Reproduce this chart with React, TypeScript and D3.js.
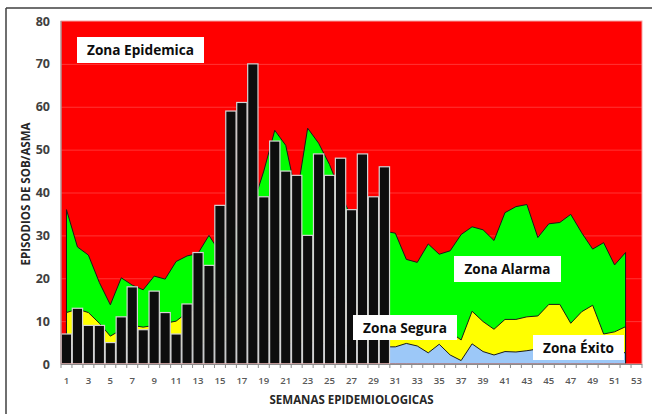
import React from "react";
import * as d3 from "d3";

const weeks = [1,2,3,4,5,6,7,8,9,10,11,12,13,14,15,16,17,18,19,20,21,22,23,24,25,26,27,28,29,30,31,32,33,34,35,36,37,38,39,40,41,42,43,44,45,46,47,48,49,50,51,52,53];
const tickWeeks = [1,3,5,7,9,11,13,15,17,19,21,23,25,27,29,31,33,35,37,39,41,43,45,47,49,51,53];
const yTicks = [0,10,20,30,40,50,60,70,80];

// observed episodes, weeks 1-30
const casos = [7,13,9,9,5,11,18,8,17,12,7,14,26,23,37,59,61,70,39,52,45,44,30,49,44,48,36,49,39,46];

// upper limits of each zone, weeks 1-52
const alarma = [36,27.3,25.4,19,13.8,20.1,18.4,17.3,20.5,19.8,23.9,25.2,25.8,30,26,30,34,37,45,54.5,51,39,55,51.5,46.5,40,34,36,33,31,30.5,24.4,23.7,28,25.6,26.4,30.2,32,31.3,28.8,35.3,36.7,37.2,29.5,32.7,33,34.9,30.6,26.8,28.3,23.1,26];
const segura = [12,12.8,12,9.5,6.5,8,9,8.6,9,9.5,10,12,13,14,15,16,17,18,17,18,17,16,18,17,16,15,14,14,12,10,8,9,8.5,8,9,7.5,5.6,12.3,9.9,8.1,10.4,10.4,11,11.2,13.9,13.9,9.5,12.2,13.7,7,7.5,8.7];
const exito = [4,4.5,4,3.5,3,3.5,4,4,4.5,4,3.5,4,4.5,5,5,5.5,5,5,5.5,5,5,4.5,5,5,4.5,4.5,4,4.5,4,4,4,4.8,4.2,2.6,4.6,2.1,0.8,4.7,2.9,2.1,2.9,2.8,3.1,3.5,4.5,4.5,3.5,3.5,3.5,3,3,2.6];

const W = 652, H = 414;
const L = 61, R = 642, T = 21, B = 364;

export default function App() {
  const x = d3.scaleBand<number>().domain(weeks).range([L, R]).paddingInner(0.06).paddingOuter(0.03);
  const y = d3.scaleLinear().domain([0, 80]).range([B, T]);
  const step = x.step();
  const cx = (w: number) => L + (weeks.indexOf(w) + 0.5) * step;

  const mk = (vals: number[]) =>
    d3.area<number>()
      .x((_, i) => cx(weeks[i]))
      .y0(y(0))
      .y1((d) => y(d))(vals) as string;

  const font = "'Open Sans', 'DejaVu Sans', sans-serif";

  const labels = [
    { t: "Zona Epidemica", bx: 77, by: 37, bw: 127, bh: 26, tl: 107 },
    { t: "Zona Alarma", bx: 454, by: 256, bw: 107, bh: 26, tl: 86 },
    { t: "Zona Segura", bx: 353, by: 315, bw: 104, bh: 25, tl: 84 },
    { t: "Zona Éxito", bx: 533, by: 335, bw: 91, bh: 25, tl: 71 },
  ];

  return (
    <div style={{ position: "fixed", left: 0, top: 0 }}>
      <svg width={W} height={H} style={{ display: "block", background: "#fff" }}>
        <line x1={6} y1={8} x2={W} y2={8} stroke="#3f3f3f" strokeWidth={1.5} />
        <line x1={6} y1={8} x2={6} y2={H} stroke="#3f3f3f" strokeWidth={1.5} />

        <rect x={L} y={T} width={R - L} height={B - T} fill="#ff0000" />
        {yTicks.slice(1, -1).map((t) => (
          <line key={t} x1={L} x2={R} y1={y(t) + 0.5} y2={y(t) + 0.5} stroke="#ff3535" strokeWidth={1} />
        ))}

        <path d={mk(alarma)} fill="#00ff00" stroke="#1a1a1a" strokeWidth={1} strokeLinejoin="round" />
        <path d={mk(segura)} fill="#ffff00" stroke="#1a1a1a" strokeWidth={1} strokeLinejoin="round" />
        <path d={mk(exito)} fill="#9cc8f8" stroke="#1a1a1a" strokeWidth={1} strokeLinejoin="round" />

        {casos.map((v, i) => (
          <rect
            key={i}
            x={x(weeks[i])!}
            y={y(v)}
            width={x.bandwidth()}
            height={y(0) - y(v)}
            fill="#0d0d0d"
            stroke="#d4d4d4"
            strokeWidth={1.2}
          />
        ))}

        <rect x={L} y={T} width={R - L} height={B - T} fill="none" stroke="#f6a5a5" strokeWidth={1} />
        <line x1={L} x2={L} y1={T} y2={B} stroke="#8c8c8c" strokeWidth={1} />
        <line x1={L} x2={R} y1={B + 0.5} y2={B + 0.5} stroke="#8c8c8c" strokeWidth={1} />
        {weeks.map((w, i) => (
          <line key={w} x1={L + i * step} x2={L + i * step} y1={B} y2={B + 4} stroke="#8c8c8c" strokeWidth={1} />
        ))}
        <line x1={R} x2={R} y1={B} y2={B + 4} stroke="#8c8c8c" strokeWidth={1} />

        {yTicks.map((t) => (
          <text key={t} x={50} y={y(t) + 4.5} textAnchor="end" fontFamily={font} fontWeight={700} fontSize={12.5} fill="#404040">
            {t}
          </text>
        ))}
        {tickWeeks.map((w) => (
          <text key={w} x={cx(w)} y={383.5} textAnchor="middle" fontFamily={font} fontWeight={600} fontSize={9.6} fill="#595959">
            {w}
          </text>
        ))}

        <text x={351.5} y={404} textAnchor="middle" fontFamily={font} fontWeight={700} fontSize={11.5} fill="#262626" textLength={164} lengthAdjust="spacingAndGlyphs">
          SEMANAS EPIDEMIOLOGICAS
        </text>
        <text transform="translate(29.5,194) rotate(-90)" textAnchor="middle" fontFamily={font} fontWeight={700} fontSize={11.5} fill="#262626" textLength={143} lengthAdjust="spacingAndGlyphs">
          EPISODIOS DE SOB/ASMA
        </text>

        {labels.map((l) => (
          <g key={l.t}>
            <rect x={l.bx} y={l.by} width={l.bw} height={l.bh} fill="#ffffff" />
            <text x={l.bx + l.bw / 2} y={l.by + l.bh / 2 + 5} textAnchor="middle" fontFamily={font} fontWeight={700} fontSize={14} fill="#0d0d0d" textLength={l.tl} lengthAdjust="spacingAndGlyphs">
              {l.t}
            </text>
          </g>
        ))}
      </svg>
    </div>
  );
}
